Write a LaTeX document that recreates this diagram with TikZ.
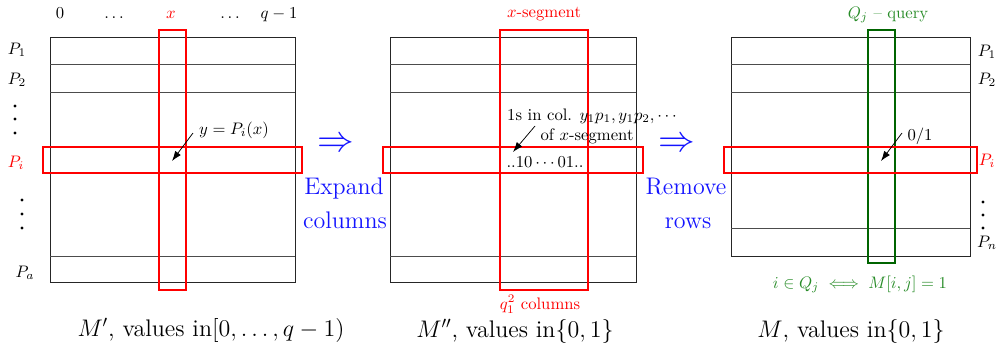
\RequirePackage{fix-cm}
\documentclass[tikz,border=0pt]{standalone}
\usetikzlibrary{arrows.meta}
\definecolor{segred}{RGB}{255,0,0}
\definecolor{qgreen}{RGB}{0,100,0}
\definecolor{qtext}{RGB}{40,140,40}
\definecolor{opblue}{RGB}{20,20,255}
\begin{document}
\begin{tikzpicture}[x=0.6pt,y=-0.6pt,
  grid/.style={line width=0.55pt, black!85},
  rowline/.style={line width=0.55pt, black!70},
  redcol/.style={draw=segred, line width=1.3pt},
  redrow/.style={draw=segred, line width=0.8pt},
  greenbox/.style={draw=qgreen, line width=1.2pt},
  small/.style={font=\normalsize, inner sep=0pt, anchor=base},
  big/.style={font=\Large, inner sep=0pt, anchor=base},
  op/.style={font=\Large, text=opblue, inner sep=0pt, anchor=base},
  impl/.style={font=\fontsize{22}{24}\selectfont, text=opblue, inner sep=0pt},
  pointer/.style={-{Latex[length=6pt,width=4.2pt]}, line width=0.45pt},
  dotmark/.style={black}
]
\useasboundingbox (0,0) rectangle (996,350);

% ---------- left matrix M'
\draw[grid] (50,37) rectangle (295,282);
\draw[rowline] (50,64) -- (295,64) (50,92) -- (295,92) (50,256) -- (295,256);
\draw[redcol] (159,30) rectangle (186,290);
\draw[redrow] (43,147) rectangle (302,173);

\node[small] (c0) at (60,18) {$0$};
\node[small] (cd1) at (114,18) {$\ldots$};
\node[small,text=segred] (cx) at (171,18) {$x$};
\node[small] (cd2) at (230,18) {$\ldots$};
\node[small] (cq) at (279,18) {$q-1$};

\node[small] (lp1) at (17,54) {$P_1$};
\node[small] (lp2) at (17,84) {$P_2$};
\fill[dotmark] (15,106) circle (1.7) (15,119) circle (1.7) (15,133) circle (1.7);
\node[small,text=segred] (lpi) at (16,167) {$P_i$};
\fill[dotmark] (22,200) circle (1.7) (22,214) circle (1.7) (22,228) circle (1.7);
\node[small] (lpa) at (25,277) {$P_a$};

\node[small] (ylab) at (234,134) {$y=P_i(x)$};
\coordinate (a1s) at (193,133);
\coordinate (a1e) at (172,161);
\draw[pointer] (a1s) -- (a1e);

\node[big] (cap1) at (211,336) {$M'$, values in$[0,\ldots,q-1)$};

% ---------- first operation
\node[impl] (imp1) at (336,145) {$\Rightarrow$};
\node[op] (exp1) at (344,194) {Expand};
\node[op] (exp2) at (345,228) {columns};

% ---------- middle matrix M''
\draw[grid] (390,37) rectangle (636,282);
\draw[rowline] (390,64) -- (636,64) (390,92) -- (636,92) (390,256) -- (636,256);
\draw[redcol] (500,30) rectangle (588,290);
\draw[redrow] (383,147) rectangle (643,173);

\node[small,text=segred] (xseg) at (544,17) {$x$-segment};
\node[small] (ones1) at (592,120) {1s in col. $y_1p_1,y_1p_2,\cdots$};
\node[small] (ones2) at (587,140) {of $x$-segment};
\coordinate (a2s) at (535,126);
\coordinate (a2e) at (513,152);
\draw[pointer] (a2s) -- (a2e);
\node[small] (bits) at (545,167) {$..10\cdots01..$};
\node[small,text=segred] (qcols) at (540,309) {$q_1^2$ columns};
\node[big] (cap2) at (515,337) {$M''$, values in$\{0,1\}$};

% ---------- second operation
\node[impl] (imp2) at (677,145) {$\Rightarrow$};
\node[op] (rem1) at (686,194) {Remove};
\node[op] (rem2) at (688,228) {rows};

% ---------- right matrix M
\draw[grid] (731,37) rectangle (970,256);
\draw[rowline] (731,64) -- (970,64) (731,92) -- (970,92) (731,228) -- (970,228);
\draw[greenbox] (868,30) rectangle (895,263);
\draw[redrow] (724,147) rectangle (977,173);

\node[small,text=qtext] (qj) at (888,18) {$Q_j$ -- query};
\node[small] (rp1) at (987,56) {$P_1$};
\node[small] (rp2) at (987,84) {$P_2$};
\node[small,text=segred] (rpi) at (987,165) {$P_i$};
\fill[dotmark] (983,202) circle (1.7) (983,215) circle (1.7) (983,228) circle (1.7);
\node[small] (rpn) at (987,247) {$P_n$};
\node[small] (zo) at (920,140) {$0/1$};
\coordinate (a3s) at (902,133);
\coordinate (a3e) at (881,161);
\draw[pointer] (a3s) -- (a3e);
\node[small,text=qtext] (iff) at (860,288) {$i\in Q_j\iff M[i,j]=1$};
\node[big] (cap3) at (851,337) {$M$, values in$\{0,1\}$};
\end{tikzpicture}
\end{document}
